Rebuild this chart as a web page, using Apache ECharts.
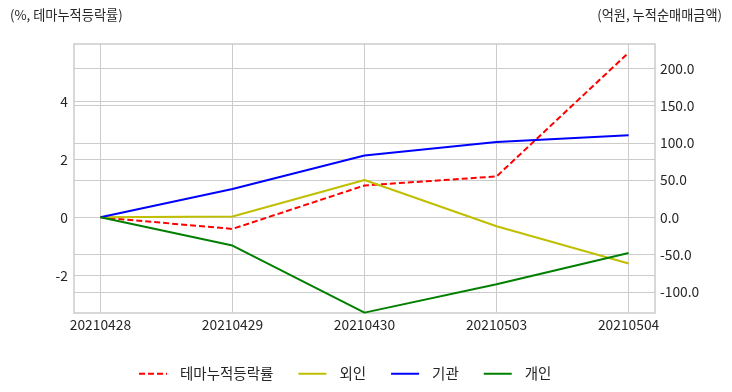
<!DOCTYPE html>
<html>
<head>
<meta charset="utf-8">
<script src="https://cdn.jsdelivr.net/npm/echarts@6/dist/echarts.min.js"></script>
<style>html,body{margin:0;padding:0;background:#fff}#c{width:732px;height:392px}</style>
</head>
<body>
<div id="c"></div>
<script>
const categories = ['20210428', '20210429', '20210430', '20210503', '20210504'];
const themeReturn = [0, -0.40, 1.10, 1.41, 5.68];
const foreign = [0, 1, 50, -12, -62];
const institution = [0, 38, 83, 101, 110];
const individual = [0, -38, -128, -90, -48];
const leftTicks = [-2, 0, 2, 4];
const rightTicks = [-100, -50, 0, 50, 100, 150, 200];
const seriesNames = ['테마누적등락률', '외인', '기관', '개인'];
const leftTitle = '(%, 테마누적등락률)';
const rightTitle = '(억원, 누적순매매금액)';

const FONT = '"Noto Sans CJK KR", "Liberation Sans", sans-serif';
const TXT = '#262626';
const GRID = '#cccccc';
const idx = categories.map((_, i) => i);
const pairs = arr => arr.map((v, i) => [i, v]);

const chart = echarts.init(document.getElementById('c'), null, {renderer: 'canvas'});
chart.setOption({
  animation: false,
  backgroundColor: '#ffffff',
  textStyle: {fontFamily: FONT, color: TXT},
  title: [
    {text: leftTitle, left: 10, top: 8, padding: 0, textStyle: {fontSize: 13.2, fontWeight: 'normal', color: TXT, fontFamily: FONT}},
    {text: rightTitle, right: 10, top: 8, padding: 0, textStyle: {fontSize: 13.2, fontWeight: 'normal', color: TXT, fontFamily: FONT}}
  ],
  grid: {left: 74, top: 44, width: 581, height: 269, show: true, borderColor: GRID, borderWidth: 1.5, backgroundColor: 'transparent'},
  legend: {
    bottom: 11, left: 138, padding: 0,
    itemWidth: 28, itemHeight: 14, itemGap: 24,
    itemStyle: {opacity: 0},
    textStyle: {fontSize: 14.5, color: TXT, fontFamily: FONT, padding: [0, 0, 0, 8]},
    data: seriesNames
  },
  xAxis: {
    type: 'value', min: -0.2, max: 4.2,
    axisLine: {show: false},
    axisTick: {show: false, customValues: idx},
    axisLabel: {customValues: idx, margin: 5, fontSize: 13.8, color: TXT, fontFamily: FONT,
      formatter: v => categories[Math.round(v)] || ''},
    splitLine: {show: true, lineStyle: {color: GRID, width: 1}}
  },
  yAxis: [
    {
      type: 'value', position: 'left', min: -3.3, max: 5.98,
      axisLine: {show: false},
      axisTick: {show: false, customValues: leftTicks},
      axisLabel: {customValues: leftTicks, margin: 6, fontSize: 13.8, color: TXT, fontFamily: FONT,
        formatter: v => String(v)},
      splitLine: {show: true, lineStyle: {color: GRID, width: 1}}
    },
    {
      type: 'value', position: 'right', min: -128.5, max: 232.6,
      axisLine: {show: false},
      axisTick: {show: false, customValues: rightTicks},
      axisLabel: {customValues: rightTicks, margin: 5, fontSize: 13.8, color: TXT, fontFamily: FONT,
        formatter: v => v.toFixed(1)},
      splitLine: {show: true, lineStyle: {color: GRID, width: 1}}
    }
  ],
  series: [
    {name: seriesNames[0], type: 'line', yAxisIndex: 0, data: pairs(themeReturn), symbol: 'none',
      itemStyle: {color: '#ff0000'}, lineStyle: {color: '#ff0000', width: 2, type: [6, 3]}},
    {name: seriesNames[1], type: 'line', yAxisIndex: 1, data: pairs(foreign), symbol: 'none',
      itemStyle: {color: '#bfbf00'}, lineStyle: {color: '#bfbf00', width: 2}},
    {name: seriesNames[2], type: 'line', yAxisIndex: 1, data: pairs(institution), symbol: 'none',
      itemStyle: {color: '#0000ff'}, lineStyle: {color: '#0000ff', width: 2}},
    {name: seriesNames[3], type: 'line', yAxisIndex: 1, data: pairs(individual), symbol: 'none',
      itemStyle: {color: '#008000'}, lineStyle: {color: '#008000', width: 2}}
  ]
});
</script>
</body>
</html>
